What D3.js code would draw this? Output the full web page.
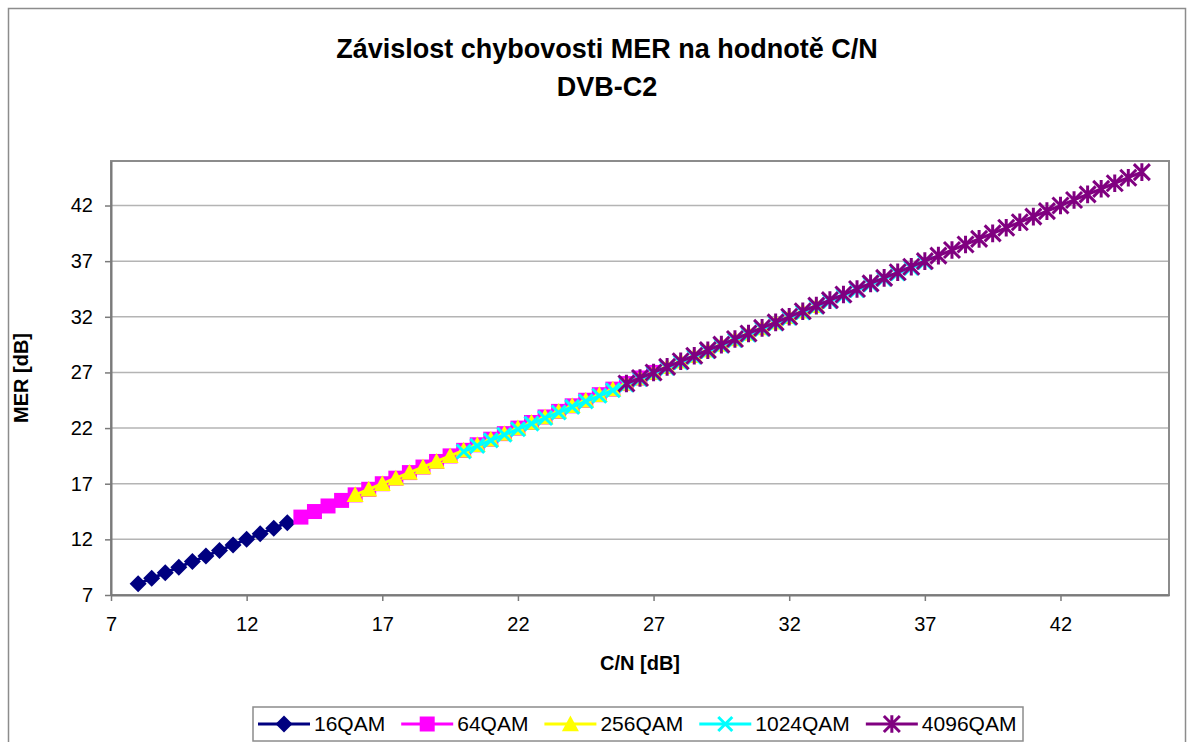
<!DOCTYPE html>
<html>
<head>
<meta charset="utf-8">
<script src="https://cdn.jsdelivr.net/npm/d3@7"></script>
<style>
  html, body { margin: 0; padding: 0; background: #fff; }
  svg { display: block; font-family: "Liberation Sans", Arial, sans-serif; }
</style>
</head>
<body>
<script>
// C/N [dB] and measured MER [dB] for each modulation
const cn16 = [8, 8.5, 9, 9.5, 10, 10.5, 11, 11.5, 12, 12.5, 13, 13.5];
const mer16 = [8.0, 8.5, 9.0, 9.5, 10.0, 10.5, 11.0, 11.5, 12.0, 12.5, 13.0, 13.5];

const cn64 = [14, 14.5, 15, 15.5, 16, 16.5, 17, 17.5, 18, 18.5, 19, 19.5, 20, 20.5, 21, 21.5, 22, 22.5, 23, 23.5, 24, 24.5, 25, 25.5, 26, 26.5, 27];
const mer64 = [14.0, 14.5, 15.0, 15.5, 16.0, 16.5, 17.0, 17.5, 18.0, 18.5, 19.0, 19.5, 20.0, 20.5, 21.0, 21.5, 22.0, 22.5, 23.0, 23.5, 24.0, 24.5, 25.0, 25.5, 26.0, 26.5, 27.0];

const cn256 = [16, 16.5, 17, 17.5, 18, 18.5, 19, 19.5, 20, 20.5, 21, 21.5, 22, 22.5, 23, 23.5, 24, 24.5, 25, 25.5, 26, 26.5, 27, 27.5, 28, 28.5, 29, 29.5, 30, 30.5, 31, 31.5, 32, 32.5, 33];
const mer256 = [16.0, 16.5, 17.0, 17.5, 18.0, 18.5, 19.0, 19.5, 20.0, 20.5, 21.0, 21.5, 22.0, 22.5, 23.0, 23.5, 24.0, 24.5, 25.0, 25.5, 26.0, 26.5, 27.0, 27.5, 28.0, 28.5, 29.0, 29.5, 30.0, 30.5, 31.0, 31.5, 32.0, 32.5, 33.0];

const cn1024 = [20, 20.5, 21, 21.5, 22, 22.5, 23, 23.5, 24, 24.5, 25, 25.5, 26, 26.5, 27, 27.5, 28, 28.5, 29, 29.5, 30, 30.5, 31, 31.5, 32, 32.5, 33, 33.5, 34, 34.5, 35, 35.5, 36, 36.5, 37];
const mer1024 = [19.9, 20.4, 20.9, 21.4, 21.9, 22.4, 22.9, 23.4, 23.9, 24.4, 24.9, 25.4, 25.9, 26.4, 26.9, 27.4, 27.9, 28.4, 28.9, 29.4, 29.9, 30.4, 30.9, 31.4, 31.9, 32.4, 32.9, 33.4, 33.9, 34.4, 34.9, 35.4, 35.9, 36.4, 36.9];

const cn4096 = [26, 26.5, 27, 27.5, 28, 28.5, 29, 29.5, 30, 30.5, 31, 31.5, 32, 32.5, 33, 33.5, 34, 34.5, 35, 35.5, 36, 36.5, 37, 37.5, 38, 38.5, 39, 39.5, 40, 40.5, 41, 41.5, 42, 42.5, 43, 43.5, 44, 44.5, 45];
const mer4096 = [26.0, 26.5, 27.0, 27.5, 28.0, 28.5, 29.0, 29.5, 30.0, 30.5, 31.0, 31.5, 32.0, 32.5, 33.0, 33.5, 34.0, 34.5, 35.0, 35.5, 36.0, 36.5, 37.0, 37.5, 38.0, 38.5, 39.0, 39.5, 40.0, 40.5, 41.0, 41.5, 42.0, 42.5, 43.0, 43.5, 44.0, 44.5, 45.0];

const seriesNames = ["16QAM", "64QAM", "256QAM", "1024QAM", "4096QAM"];
const seriesColors = ["#000080", "#ff00ff", "#ffff00", "#00ffff", "#800080"];
const seriesMarkers = ["diamond", "square", "triangle", "cross", "star"];
const seriesX = [cn16, cn64, cn256, cn1024, cn4096];
const seriesY = [mer16, mer64, mer256, mer1024, mer4096];

const xTicks = [7, 12, 17, 22, 27, 32, 37, 42];
const yTicks = [7, 12, 17, 22, 27, 32, 37, 42];
const axisDomain = [7, 46];

const titleLines = ["Závislost chybovosti MER na hodnotě C/N", "DVB-C2"];
const xTitle = "C/N [dB]";
const yTitle = "MER [dB]";

// ---- layout ----
const W = 1193, H = 742;
const plot = { left: 111, top: 161, right: 1169, bottom: 595 };

const svg = d3.select("body").append("svg").attr("width", W).attr("height", H);

// outer chart frame
svg.append("rect")
  .attr("x", 8.5).attr("y", 8.5).attr("width", 1177).attr("height", 760)
  .attr("fill", "#fff").attr("stroke", "#8c8c8c").attr("stroke-width", 1.5);

const x = d3.scaleLinear().domain(axisDomain).range([plot.left, plot.right]);
const y = d3.scaleLinear().domain(axisDomain).range([plot.bottom, plot.top]);

// horizontal gridlines
svg.append("g").selectAll("line").data(yTicks.slice(1)).join("line")
  .attr("x1", plot.left).attr("x2", plot.right)
  .attr("y1", d => y(d)).attr("y2", d => y(d))
  .attr("stroke", "#b4b4b4").attr("stroke-width", 1.5);

// plot area frame
svg.append("rect")
  .attr("x", plot.left).attr("y", plot.top)
  .attr("width", plot.right - plot.left).attr("height", plot.bottom - plot.top)
  .attr("fill", "none").attr("stroke", "#8c8c8c").attr("stroke-width", 2);

// axes
const xAxis = svg.append("g")
  .attr("transform", `translate(0,${plot.bottom})`)
  .call(d3.axisBottom(x).tickValues(xTicks).tickSize(6).tickPadding(16).tickSizeOuter(0));
const yAxis = svg.append("g")
  .attr("transform", `translate(${plot.left},0)`)
  .call(d3.axisLeft(y).tickValues(yTicks).tickSize(6).tickPadding(12).tickSizeOuter(0));

[xAxis, yAxis].forEach(g => {
  g.select(".domain").attr("stroke", "#7a7a7a").attr("stroke-width", 2);
  g.selectAll(".tick line").attr("stroke", "#7a7a7a").attr("stroke-width", 1.5);
  g.selectAll(".tick text").attr("fill", "#000").attr("font-size", 20)
    .attr("font-family", "Liberation Sans, Arial, sans-serif");
});

// marker shapes
function markerPath(kind, s) {
  const h = s / 2;
  switch (kind) {
    case "diamond": return `M0,${-h}L${h},0L0,${h}L${-h},0Z`;
    case "square": return `M${-h},${-h}H${h}V${h}H${-h}Z`;
    case "triangle": return `M0,${-h}L${h},${h * 0.85}L${-h},${h * 0.85}Z`;
    case "cross": return `M${-h},${-h}L${h},${h}M${-h},${h}L${h},${-h}`;
    case "star": return `M${-h},${-h}L${h},${h}M${-h},${h}L${h},${-h}M0,${-h * 1.1}V${h * 1.1}`;
  }
}
const markerSize = { diamond: 17, square: 15, triangle: 17, cross: 14, star: 16 };

function drawMarker(g, kind, color, cx, cy) {
  const p = g.append("path")
    .attr("transform", `translate(${cx},${cy})`)
    .attr("d", markerPath(kind, markerSize[kind]));
  if (kind === "cross" || kind === "star") {
    p.attr("fill", "none").attr("stroke", color).attr("stroke-width", 3);
  } else {
    p.attr("fill", color).attr("stroke", "none");
  }
}

// series: line then markers, in order so later series sit on top
const line = d3.line().x(d => x(d[0])).y(d => y(d[1]));
seriesNames.forEach((name, i) => {
  const pts = seriesX[i].map((v, j) => [v, seriesY[i][j]]);
  const g = svg.append("g").attr("class", "series-" + name);
  g.append("path").attr("d", line(pts))
    .attr("fill", "none").attr("stroke", seriesColors[i]).attr("stroke-width", 3);
  pts.forEach(p => drawMarker(g, seriesMarkers[i], seriesColors[i], x(p[0]), y(p[1])));
});

// titles
const title = svg.append("text").attr("text-anchor", "middle")
  .attr("font-weight", "bold").attr("font-size", 27).attr("fill", "#000");
title.append("tspan").attr("x", 607).attr("y", 58).text(titleLines[0]);
title.append("tspan").attr("x", 607).attr("y", 96).text(titleLines[1]);

svg.append("text").attr("x", (plot.left + plot.right) / 2).attr("y", 670)
  .attr("text-anchor", "middle").attr("font-weight", "bold").attr("font-size", 20)
  .text(xTitle);
svg.append("text")
  .attr("transform", `translate(28,${(plot.top + plot.bottom) / 2}) rotate(-90)`)
  .attr("text-anchor", "middle").attr("font-weight", "bold").attr("font-size", 20)
  .text(yTitle);

// legend
const legend = svg.append("g");
legend.append("rect").attr("x", 253).attr("y", 707).attr("width", 770).attr("height", 34)
  .attr("fill", "#fff").attr("stroke", "#8c8c8c").attr("stroke-width", 1.5);
let lx = 258;
seriesNames.forEach((name, i) => {
  const g = legend.append("g");
  g.append("line").attr("x1", lx).attr("x2", lx + 52).attr("y1", 724).attr("y2", 724)
    .attr("stroke", seriesColors[i]).attr("stroke-width", 3);
  drawMarker(g, seriesMarkers[i], seriesColors[i], lx + 26, 724);
  const t = g.append("text").attr("x", lx + 56).attr("y", 731)
    .attr("font-size", 21).attr("fill", "#000").text(name);
  lx += 56 + t.node().getComputedTextLength() + 16;
});
</script>
</body>
</html>
